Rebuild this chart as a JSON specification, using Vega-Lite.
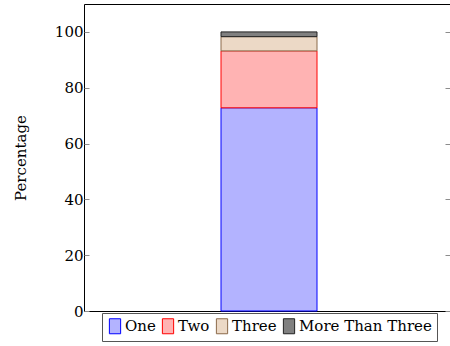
{
  "$schema": "https://vega.github.io/schema/vega-lite/v6.json",
  "autosize": "none",
  "padding": {"left": 84, "top": 4, "right": 0, "bottom": 35},
  "width": 366,
  "height": 307,
  "background": "white",
  "config": {
    "view": {"stroke": "#000000", "strokeWidth": 1},
    "font": "DejaVu Serif",
    "text": {"font": "DejaVu Serif"},
    "axis": {"labelFont": "DejaVu Serif", "titleFont": "DejaVu Serif"},
    "legend": {"labelFont": "DejaVu Serif"}
  },
  "data": {
    "values": [
      {"group": "A", "category": "One", "rank": 1, "value": 72.8},
      {"group": "A", "category": "Two", "rank": 2, "value": 20.4},
      {"group": "A", "category": "Three", "rank": 3, "value": 5.1},
      {"group": "A", "category": "More Than Three", "rank": 4, "value": 1.7}
    ]
  },
  "layer": [
    {
      "mark": {"type": "bar", "width": 96, "strokeWidth": 1, "fillOpacity": 1, "xOffset": 2},
      "encoding": {
        "x": {"field": "group", "type": "nominal", "axis": null},
        "y": {
          "field": "value", "type": "quantitative", "stack": "zero",
          "scale": {"domain": [0, 110], "nice": false},
          "axis": {
            "orient": "left",
            "title": "Percentage",
            "titleFontSize": 15,
            "titleFontWeight": "normal",
            "titleColor": "#000000",
            "titlePadding": 26,
            "values": [0, 20, 40, 60, 80, 100],
            "labelFontSize": 15,
            "labelColor": "#000000",
            "labelPadding": 6,
            "tickSize": -5,
            "tickColor": "#8c8c8c",
            "tickWidth": 1,
            "domain": false,
            "grid": false
          }
        },
        "order": {"field": "rank", "type": "quantitative"},
        "fill": {
          "field": "category", "type": "nominal",
          "scale": {
            "domain": ["One", "Two", "Three", "More Than Three"],
            "range": ["#b3b3ff", "#ffb3b3", "#ecd9c6", "#808080"]
          },
          "legend": {
            "title": null,
            "orient": "none",
            "legendX": 18,
            "legendY": 309,
            "direction": "horizontal",
            "columns": 4,
            "strokeColor": "#555555",
            "fillColor": "#ffffff",
            "padding": 5,
            "columnPadding": 4,
            "labelFontSize": 15,
            "labelColor": "#000000",
            "labelOffset": 2,
            "symbolType": "M-0.75,-1H0.75V1H-0.75Z",
            "symbolSize": 225,
            "symbolStrokeWidth": 1,
            "symbolOpacity": 1
          }
        },
        "stroke": {
          "field": "category", "type": "nominal",
          "scale": {
            "domain": ["One", "Two", "Three", "More Than Three"],
            "range": ["#0000ff", "#ff0000", "#8b6a4a", "#222222"]
          },
          "legend": null
        }
      }
    },
    {
      "mark": {"type": "rule", "opacity": 0},
      "encoding": {
        "y": {
          "field": "value", "type": "quantitative",
          "scale": {"domain": [0, 110], "nice": false},
          "axis": {
            "orient": "right",
            "title": null,
            "values": [0, 20, 40, 60, 80, 100],
            "labels": false,
            "tickSize": -5,
            "tickColor": "#8c8c8c",
            "domain": false,
            "grid": false
          }
        }
      }
    }
  ],
  "resolve": {"axis": {"y": "independent"}}
}
